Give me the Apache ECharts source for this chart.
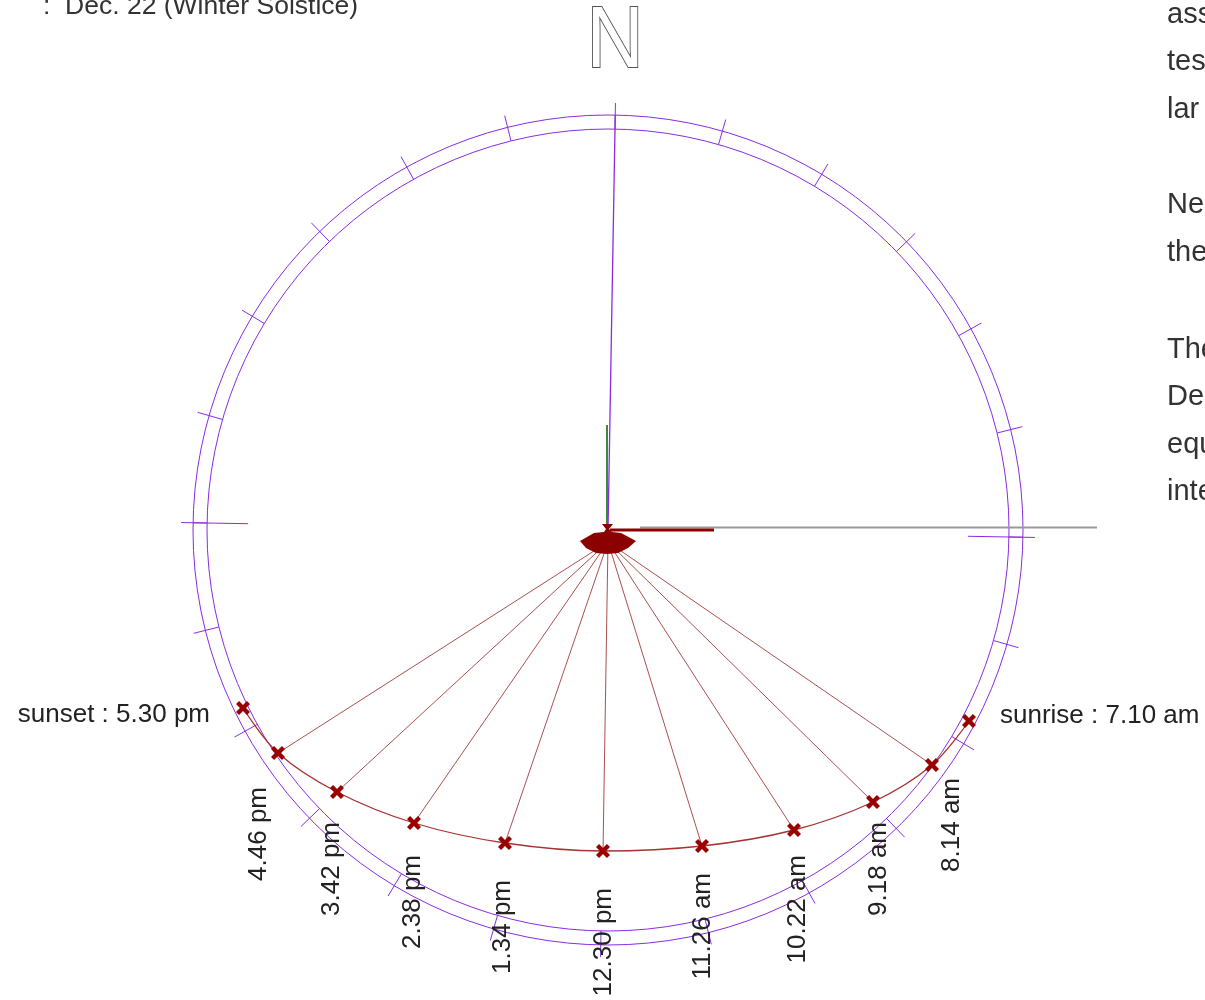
<!DOCTYPE html>
<html><head><meta charset="utf-8">
<script src="https://cdn.jsdelivr.net/npm/echarts@6/dist/echarts.min.js"></script>
<style>html,body{margin:0;padding:0;background:#fff;overflow:hidden}#c{width:1205px;height:1000px}</style>
</head><body><div id="c"></div>
<script>
// ---- data (units: px relative to the dial centre, y up) ----
const pointNames = ['sunset : 5.30 pm','4.46 pm','3.42 pm','2.38 pm','1.34 pm','12.30 pm','11.26 am','10.22 am','9.18 am','8.14 am','sunrise : 7.10 am'];
const pointX = [-365,-330,-271,-194,-103,-5,94,186,265,324,361];
const pointY = [-178,-223,-262,-293,-313,-321,-316,-300,-272,-235,-191];
const rayOrigin = [0,-12];
const fanX = [-6,5,1,4,13,28,20,10,-1,-12,-22,-28,-14,-4,-2];
const fanY = [6,6,1,-2,-3,-11,-18,-23,-24,-23,-18,-11,-3,-2,1];
const northLine = [[0,0],[430,0]];        // [radius, bearing]
const eastTick = [[360,90],[428,90]];
const westTick = [[360,270],[428,270]];
const greenLine = [[-1,0],[-1,105]];
const greyLine = [[32,2.5],[489,2.5]];
const redLine = [[2,0],[106,0]];
const titleText = ':  Dec. 22 (Winter Solstice)';
const bodyLines = ['assumed','tested','lar','Near','the','The','Dec','equal','inter'];

// ---- styling / layout ----
const CX = 608, CY = 530;
const bodyY = [15,62,110,205,253,350,397,445,492];
// screen offsets [dx, dy] of each label anchor from its point
const labelOffsets = [[-33,7],[-19,34],[-5,30],[-1,32],[-2,37],[1,37],[1,27],[4,25],[6,20],[20,13],[31,-5]];
const FONT = '"Liberation Sans", Arial, Helvetica, sans-serif';
const PURPLE = '#8a2be2';
const DARKRED = '#990000';
const xMark = 'path://M0,2.2 L2.2,0 L5,2.8 L7.8,0 L10,2.2 L7.2,5 L10,7.8 L7.8,10 L5,7.2 L2.2,10 L0,7.8 L2.8,5 Z';

const pathData = pointX.map((x,i) => {
  const last = pointNames.length - 1;
  const side = i === 0 || i === last;
  const o = labelOffsets[i];
  return {
    value: [x, pointY[i]],
    label: {
      show: true,
      formatter: pointNames[i],
      position: 'inside',
      // rotated labels take their offset in the rotated frame
      offset: side ? o : [-o[1], o[0]],
      rotate: side ? 0 : 90,
      align: side ? (i === 0 ? 'right' : 'left') : 'right',
      verticalAlign: 'middle',
      fontSize: 26,
      fontFamily: FONT,
      color: '#222'
    }
  };
});

const rays = pointX.slice(1, -1).map((x,i) => ({coords: [rayOrigin, [x, pointY[i+1]]]}));

const graphics = [
  {type:'text', x:615, y:43, scaleX:0.9, z:10,
   style:{text:'N', font:'88px ' + FONT, fill:'#fff', stroke:'#555', lineWidth:2, align:'center', verticalAlign:'middle'}},
  {type:'text', x:43, y:7, style:{text:titleText, font:'26.5px ' + FONT, fill:'#333', align:'left', verticalAlign:'middle'}}
].concat(bodyLines.map((t,i) => ({type:'text', x:1167, y:bodyY[i],
  style:{text:t, font:'29px ' + FONT, fill:'#333', align:'left', verticalAlign:'middle'}})));

const chart = echarts.init(document.getElementById('c'));
chart.setOption({
  animation: false,
  backgroundColor: '#fff',
  grid: {left:0, right:0, top:0, bottom:0},
  xAxis: {type:'value', min:-CX, max:1205-CX, show:false},
  yAxis: {type:'value', min:CY-1000, max:CY, show:false},
  polar: [
    {center:[CX, CY], radius:401},
    {center:[CX, CY], radius:415}
  ],
  angleAxis: [
    {polarIndex:0, type:'value', min:0, max:360, interval:15, startAngle:89, clockwise:true,
     axisLine:{lineStyle:{color:PURPLE, width:1}},
     axisTick:{show:true, inside:false, length:26, lineStyle:{color:PURPLE, width:1}},
     axisLabel:{show:false}, splitLine:{show:false}},
    {polarIndex:1, type:'value', min:0, max:360, interval:15, startAngle:89, clockwise:true,
     axisLine:{lineStyle:{color:PURPLE, width:1}},
     axisTick:{show:false}, axisLabel:{show:false}, splitLine:{show:false}}
  ],
  radiusAxis: [
    {polarIndex:0, type:'value', min:0, max:401, show:false, axisLine:{show:false}, axisTick:{show:false}, axisLabel:{show:false}, splitLine:{show:false}},
    {polarIndex:1, type:'value', min:0, max:415, show:false, axisLine:{show:false}, axisTick:{show:false}, axisLabel:{show:false}, splitLine:{show:false}}
  ],
  graphic: graphics,
  series: [
    {type:'line', coordinateSystem:'polar', polarIndex:1, data:eastTick, symbol:'none', silent:true,
     lineStyle:{color:PURPLE, width:1}},
    {type:'line', coordinateSystem:'polar', polarIndex:1, data:westTick, symbol:'none', silent:true,
     lineStyle:{color:PURPLE, width:1}},
    {type:'line', data:greyLine, symbol:'none', lineStyle:{color:'#9a9a9a', width:2}, z:2},
    {type:'line', data:greenLine, symbol:'none', lineStyle:{color:'#3f8a3f', width:2}, z:2},
    {type:'line', coordinateSystem:'polar', polarIndex:1, data:northLine, symbol:'none', silent:true,
     lineStyle:{color:PURPLE, width:1.3}, z:3},
    {type:'lines', coordinateSystem:'cartesian2d', data:rays, silent:true,
     lineStyle:{color:'#9c3030', width:1, opacity:0.85}, z:3},
    {type:'line', data:redLine, symbol:'none', lineStyle:{color:'#8b0000', width:3}, z:4},
    {type:'custom', coordinateSystem:'cartesian2d', data:[[0,0]], z:5,
     renderItem: (params, api) => ({
       type:'polygon',
       shape:{points: fanX.map((x,i) => api.coord([x, fanY[i]]))},
       style:{fill:'#8b0000'}
     })},
    {type:'line', data:pathData, smooth:0.35, symbol:xMark, symbolSize:14, z:6,
     itemStyle:{color:DARKRED}, lineStyle:{color:'#a83232', width:1.3}}
  ]
});
</script>
</body></html>
